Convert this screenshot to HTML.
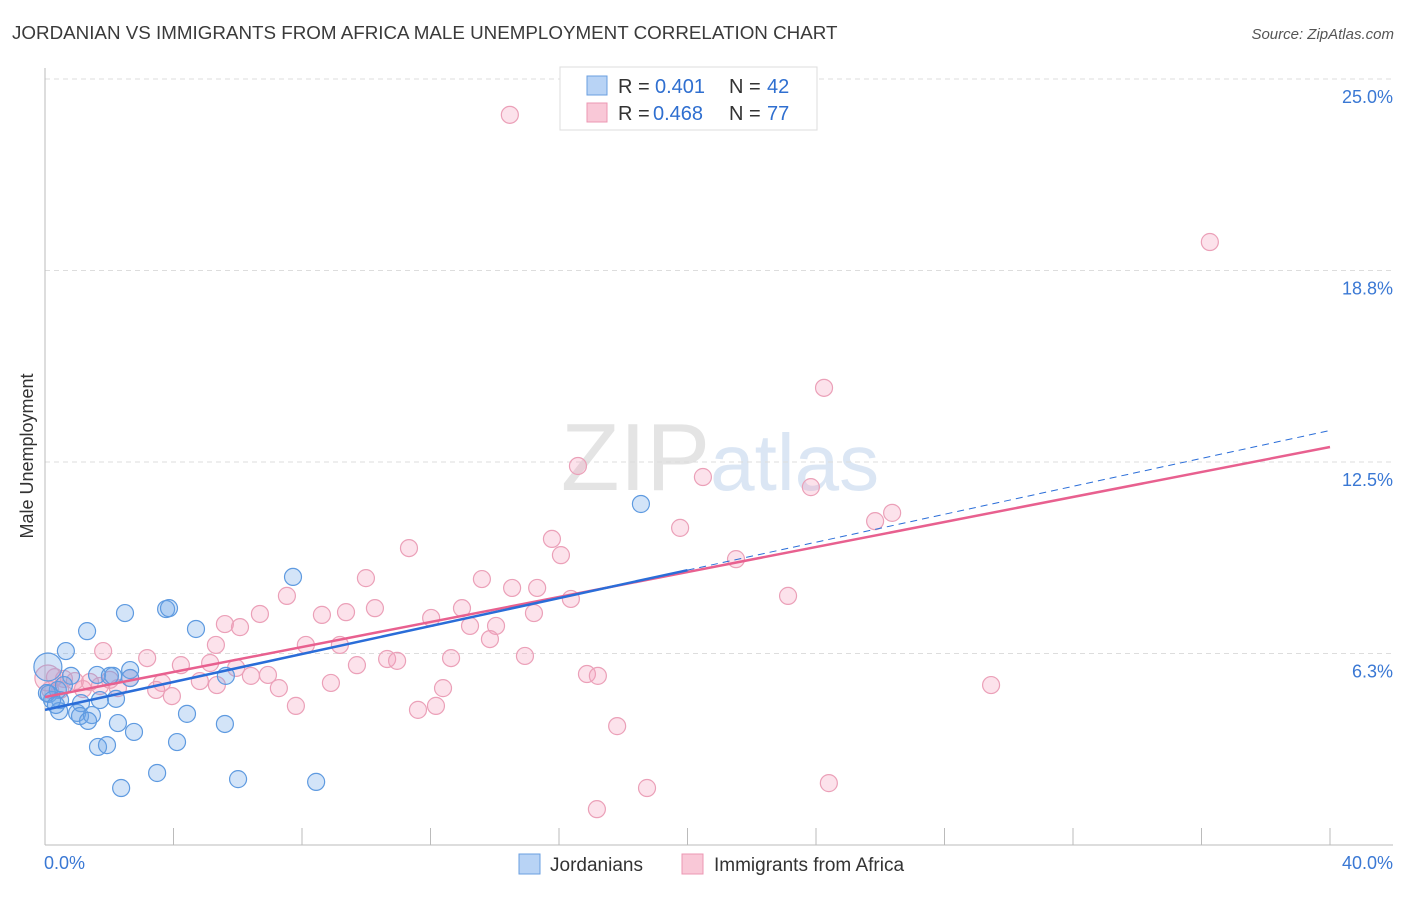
<!DOCTYPE html>
<html><head><meta charset="utf-8"><style>
body{margin:0;background:#fff;font-family:"Liberation Sans",sans-serif}
svg text{font-family:"Liberation Sans",sans-serif}
</style></head><body>
<svg id="chart" width="1406" height="892" xmlns="http://www.w3.org/2000/svg">
<text x="12" y="39" font-size="18.8" fill="#3a3a3a">JORDANIAN VS IMMIGRANTS FROM AFRICA MALE UNEMPLOYMENT CORRELATION CHART</text>
<text x="1394" y="39" font-size="15" fill="#555" text-anchor="end" font-style="italic">Source: ZipAtlas.com</text>
<text x="720" y="490" font-size="96" fill="#e4e4e4" text-anchor="middle" font-family="Liberation Serif">ZIP<tspan fill="#dbe6f4" font-family="Liberation Sans" font-size="80">atlas</tspan></text>
<text transform="translate(33,456) rotate(-90)" font-size="18" fill="#333" text-anchor="middle">Male Unemployment</text>
<g id="grid"></g><g id="axes"></g><g id="pts"></g><g id="lines"></g>
<g>
<rect x="560" y="67" width="257" height="63" fill="#fff" stroke="#ddd"/>
<rect x="587" y="76" width="20" height="19" fill="#b8d3f5" stroke="#6a9fe0"/>
<rect x="587" y="103" width="20" height="19" fill="#f9c8d7" stroke="#ec97b3"/>
<text x="618" y="93" font-size="20" fill="#333">R = </text>
<text x="655" y="93" font-size="20" fill="#2f6fd0">0.401</text>
<text x="729" y="93" font-size="20" fill="#333">N = </text>
<text x="767" y="93" font-size="20" fill="#2f6fd0">42</text>
<text x="618" y="120" font-size="20" fill="#333">R = </text>
<text x="653" y="120" font-size="20" fill="#2f6fd0">0.468</text>
<text x="729" y="120" font-size="20" fill="#333">N = </text>
<text x="767" y="120" font-size="20" fill="#2f6fd0">77</text>
</g>
<g>
<rect x="519" y="854" width="21" height="20" fill="#b8d3f5" stroke="#6a9fe0"/>
<text x="550" y="871" font-size="19" fill="#333">Jordanians</text>
<rect x="682" y="854" width="21" height="20" fill="#f9c8d7" stroke="#ec97b3"/>
<text x="714" y="871" font-size="19" fill="#333">Immigrants from Africa</text>
</g>
</svg>
<script>
const yTicks=[25,18.75,12.5,6.25];
const yTickLabels=["25.0%","18.8%","12.5%","6.3%"];
const xTickCount=10;
const xLabels=["0.0%","40.0%"];
const blueX=[7.72,18.55,2.49,3.77,3.86,1.31,4.70,0.65,2.65,1.62,2.12,0.09,2.65,0.81,0.40,0.12,0.47,1.71,2.21,5.63,1.12,0.44,1.00,1.09,1.46,1.34,2.27,2.77,4.42,5.60,4.11,1.65,1.93,3.49,6.01,2.37,8.44,0.22,0.06,0.34,2.02,0.59];
const blueY=[8.75,11.13,7.57,7.70,7.73,6.98,7.05,6.33,5.71,5.55,5.52,5.81,5.45,5.52,5.06,4.93,4.73,4.73,4.77,5.52,4.63,4.37,4.31,4.21,4.24,4.05,3.98,3.69,4.28,3.95,3.36,3.20,3.26,2.35,2.15,1.86,2.06,4.73,4.96,4.57,5.52,5.22];
const pinkX=[14.47,36.26,24.25,16.59,20.48,23.84,26.37,25.84,19.77,15.78,16.06,11.33,21.51,9.99,13.60,14.54,15.32,16.37,23.13,7.53,6.69,10.27,9.37,8.62,12.98,12.02,15.22,5.60,6.07,14.04,13.23,13.85,8.12,9.18,5.32,1.81,3.18,14.94,12.64,10.65,10.96,4.23,5.14,5.95,6.94,6.41,9.71,16.87,17.21,29.45,4.82,3.64,5.35,8.90,7.28,12.39,3.46,3.95,2.27,1.71,1.18,0.59,0.31,0.93,0.09,7.81,11.61,12.17,17.81,24.40,18.74,17.18,1.40,2.02,2.65,0.47,0.16];
const pinkY=[23.83,19.68,14.92,12.37,12.01,11.68,10.84,10.57,10.35,9.99,9.46,9.69,9.33,8.71,8.68,8.39,8.39,8.03,8.13,8.13,7.54,7.73,7.60,7.51,7.73,7.41,7.57,7.21,7.11,7.15,7.15,6.72,6.53,6.53,6.53,6.33,6.10,6.17,6.10,6.07,6.01,5.87,5.94,5.78,5.55,5.52,5.87,5.58,5.52,5.22,5.35,5.29,5.22,5.29,5.12,5.12,5.06,4.86,5.12,5.19,5.09,5.42,5.48,5.35,5.45,4.54,4.41,4.54,3.88,2.02,1.86,1.17,5.32,5.39,5.45,5.06,5.06];
const blueTrend=[4.41,13.53];
const pinkTrend=[4.83,12.99];
const NS="http://www.w3.org/2000/svg";
const X=v=>45+v*32.125, Y=v=>845-v*30.64;
function mk(t,a,p){const e=document.createElementNS(NS,t);for(const k in a)e.setAttribute(k,a[k]);document.getElementById(p).appendChild(e);return e;}
yTicks.forEach((t,i)=>{
 const g=mk('line',{x1:45,x2:1393,y1:Y(t),y2:Y(t),stroke:'#ddd','stroke-dasharray':'5,4'},'grid');
 
 
 const l=mk('text',{x:1393,y:Y(t)+24,'font-size':18,fill:'#3a78d4','text-anchor':'end'},'axes');
 
 
 l.textContent=yTickLabels[i];
});
let a=mk('line',{x1:45,x2:45,y1:68,y2:845,stroke:'#bbb'},'axes');


a=mk('line',{x1:45,x2:1393,y1:845,y2:845,stroke:'#bbb'},'axes');


for(let i=0;i<=xTickCount;i++){
 const t=mk('line',{x1:X(i*4),x2:X(i*4),y1:828,y2:845,stroke:'#bbb'},'axes');
 
 
}
[[0,'start'],[40,'end']].forEach((p,i)=>{
 const t=mk('text',{x:i?X(p[0])+63:X(p[0])-1,y:869,'font-size':18,fill:'#3a78d4','text-anchor':p[1]},'axes');
 
 
 t.textContent=xLabels[i];
});
pinkX.forEach((x,i)=>{
 const c=mk('circle',{cx:X(x),cy:Y(pinkY[i]),r:i==64?13:8.5,fill:'rgba(244,160,188,0.3)',stroke:'#eba0b8','stroke-width':1.2},'pts');
 
 
});
blueX.forEach((x,i)=>{
 const c=mk('circle',{cx:X(x),cy:Y(blueY[i]),r:i==11?14:8.5,fill:'rgba(110,165,232,0.3)',stroke:'#5e9ae0','stroke-width':1.2},'pts');
 
 
});
const bAt=x=>blueTrend[0]+(blueTrend[1]-blueTrend[0])*x/40;
let l=mk('line',{x1:X(20),y1:Y(bAt(20)),x2:X(40),y2:Y(bAt(40)),stroke:'#2a6dd8','stroke-width':1,'stroke-dasharray':'7,5'},'lines');


l=mk('line',{x1:X(0),y1:Y(pinkTrend[0]),x2:X(40),y2:Y(pinkTrend[1]),stroke:'#e8608f','stroke-width':2.5},'lines');


l=mk('line',{x1:X(0),y1:Y(bAt(0)),x2:X(20),y2:Y(bAt(20)),stroke:'#2a6dd8','stroke-width':2.5},'lines');


</script>
</body></html>
